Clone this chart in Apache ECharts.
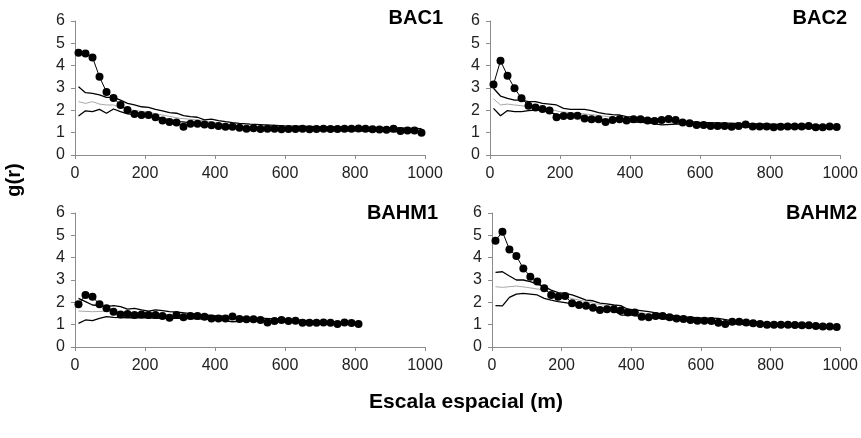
<!DOCTYPE html>
<html>
<head>
<meta charset="utf-8">
<script src="https://cdn.jsdelivr.net/npm/echarts@6/dist/echarts.min.js"></script>
<style>
  html, body { margin: 0; padding: 0; background: #fff; }
  #chart { width: 861px; height: 438px; }
</style>
</head>
<body>
<div id="chart"></div>
<script>
  // distancias (m) de cada punto observado
  var dist = [];
  for (var d = 10; d <= 990; d += 20) dist.push(d);

  var xTicks = [0, 200, 400, 600, 800, 1000];
  var yTicks = [0, 1, 2, 3, 4, 5, 6];

  var names = ['BAC1', 'BAC2', 'BAHM1', 'BAHM2'];

  // g(r) observado
  var obsBAC1 = [4.58,4.55,4.37,3.5,2.82,2.55,2.24,2.01,1.84,1.79,1.79,1.69,1.55,1.48,1.45,1.27,1.4,1.4,1.37,1.33,1.3,1.27,1.27,
    1.22,1.17,1.2,1.16,1.17,1.17,1.15,1.16,1.16,1.17,1.15,1.16,1.18,1.16,1.16,1.18,1.17,1.19,1.17,1.15,1.14,1.13,1.18,1.07,1.1,1.1,1.0];
  var obsBAC2 = [3.16,4.22,3.55,2.99,2.54,2.21,2.13,2.06,1.99,1.69,1.75,1.75,1.76,1.63,1.6,1.6,1.48,1.57,1.6,1.54,1.6,1.6,1.54,
    1.52,1.57,1.61,1.57,1.45,1.42,1.34,1.34,1.3,1.3,1.3,1.27,1.3,1.37,1.28,1.28,1.28,1.24,1.26,1.28,1.28,1.28,1.3,1.24,1.24,1.28,1.25];
  var obsBAHM1 = [1.91,2.33,2.25,1.91,1.73,1.58,1.46,1.48,1.43,1.46,1.43,1.43,1.39,1.31,1.43,1.33,1.39,1.39,1.36,1.28,1.28,1.28,1.37,
    1.25,1.24,1.24,1.21,1.1,1.16,1.21,1.16,1.18,1.09,1.09,1.09,1.1,1.09,1.03,1.1,1.07,1.03];
  var obsBAHM2 = [4.76,5.16,4.37,4.07,3.52,3.15,2.93,2.63,2.33,2.25,2.28,1.96,1.88,1.85,1.76,1.66,1.69,1.69,1.63,1.54,1.54,1.36,1.33,
    1.39,1.39,1.33,1.28,1.25,1.21,1.18,1.18,1.16,1.09,1.03,1.13,1.13,1.1,1.06,1.03,1.0,1.0,1.0,1.0,0.98,0.97,0.97,0.94,0.92,0.92,0.9];

  // envolventes superior / inferior y media (pares [m, g(r)])
  var supBAC1 = [[10,3.06],[30,2.79],[50,2.76],[70,2.69],[90,2.58],[110,2.58],[130,2.46],[150,2.31],[170,2.24],[190,2.16],[210,2.13],[230,2.04],[250,1.98],[270,1.9],[290,1.87],[310,1.76],[330,1.72],[350,1.69],[370,1.57],[390,1.61],[410,1.54],[430,1.49],[450,1.45],[470,1.42],[500,1.38],[600,1.3],[700,1.27],[800,1.25],[900,1.22],[990,1.18]];
  var medBAC1 = [[10,2.39],[30,2.31],[50,2.39],[70,2.28],[90,2.24],[110,2.24],[130,2.13],[150,2.04],[200,1.94],[250,1.79],[300,1.64],[350,1.57],[400,1.45],[450,1.34],[500,1.27],[600,1.2],[800,1.16],[990,1.1]];
  var infBAC1 = [[10,1.75],[30,1.98],[50,1.94],[70,2.04],[90,1.87],[110,2.06],[130,1.94],[150,1.84],[170,1.81],[200,1.76],[250,1.64],[300,1.49],[350,1.42],[400,1.3],[450,1.24],[500,1.16],[600,1.1],[800,1.08],[990,1.02]];

  var supBAC2 = [[10,2.99],[30,2.64],[50,2.54],[70,2.46],[90,2.46],[110,2.39],[130,2.39],[150,2.31],[170,2.28],[190,2.24],[210,2.09],[230,2.04],[250,2.04],[270,2.04],[290,1.99],[310,1.9],[330,1.84],[350,1.81],[370,1.79],[390,1.72],[450,1.64],[500,1.56],[600,1.46],[700,1.42],[800,1.38],[990,1.3]];
  var medBAC2 = [[10,2.52],[30,2.24],[50,2.28],[70,2.24],[100,2.19],[150,2.13],[200,1.94],[250,1.87],[300,1.79],[350,1.69],[400,1.6],[500,1.48],[600,1.38],[800,1.3],[990,1.25]];
  var infBAC2 = [[10,2.09],[30,1.76],[50,1.99],[70,1.94],[90,1.94],[110,1.99],[130,2.01],[150,1.99],[170,1.9],[200,1.8],[250,1.7],[300,1.62],[350,1.55],[400,1.48],[450,1.45],[490,1.35],[550,1.4],[600,1.32],[800,1.22],[990,1.2]];

  var supBAHM1 = [[10,2.18],[30,2.03],[50,1.88],[70,1.85],[90,1.81],[110,1.85],[130,1.81],[150,1.7],[170,1.73],[190,1.66],[210,1.61],[230,1.66],[250,1.63],[270,1.58],[300,1.55],[350,1.46],[400,1.4],[450,1.36],[500,1.3],[600,1.25],[700,1.15],[810,1.08]];
  var medBAHM1 = [[10,1.61],[50,1.58],[100,1.61],[150,1.55],[200,1.51],[300,1.4],[400,1.33],[500,1.25],[600,1.18],[700,1.1],[810,1.03]];
  var infBAHM1 = [[10,1.06],[30,1.21],[50,1.18],[70,1.28],[90,1.36],[110,1.33],[150,1.31],[200,1.31],[250,1.28],[300,1.28],[400,1.24],[450,1.13],[500,1.18],[600,1.12],[700,1.05],[810,1.0]];

  var supBAHM2 = [[10,3.34],[30,3.37],[50,3.18],[70,3.0],[90,3.0],[110,2.93],[130,2.82],[150,2.7],[170,2.55],[190,2.43],[210,2.4],[230,2.33],[250,2.22],[270,2.1],[290,2.07],[310,1.96],[330,1.93],[350,1.88],[370,1.85],[390,1.69],[410,1.66],[450,1.58],[500,1.45],[550,1.35],[600,1.3],[650,1.28],[700,1.15],[800,1.08],[900,1.02],[990,0.95]];
  var medBAHM2 = [[10,2.7],[30,2.67],[70,2.73],[100,2.67],[150,2.55],[200,2.28],[250,2.1],[300,1.93],[350,1.81],[400,1.58],[500,1.38],[600,1.2],[700,1.1],[800,1.0],[990,0.9]];
  var infBAHM2 = [[10,1.85],[30,1.84],[50,2.22],[70,2.37],[90,2.4],[110,2.37],[130,2.33],[150,2.18],[170,2.1],[190,2.03],[210,1.99],[230,1.93],[250,1.85],[300,1.73],[350,1.63],[370,1.43],[400,1.43],[450,1.33],[500,1.25],[600,1.12],[700,1.02],[800,0.95],[990,0.85]];

  var obs = [obsBAC1, obsBAC2, obsBAHM1, obsBAHM2];
  var sup = [supBAC1, supBAC2, supBAHM1, supBAHM2];
  var med = [medBAC1, medBAC2, medBAHM1, medBAHM2];
  var inf = [infBAC1, infBAC2, infBAHM1, infBAHM2];

  var boxes = [
    {left: 75, top: 21, width: 350, height: 134},
    {left: 490, top: 21, width: 352, height: 134},
    {left: 75, top: 213, width: 350, height: 134},
    {left: 492, top: 213, width: 351, height: 134}
  ];
  // borde derecho y borde superior de cada rótulo
  var titlePos = [[418, 8], [14, 8], [423, 203], [4, 203]];

  var font = 'Liberation Sans, Arial, sans-serif';
  var axisColor = '#8c8c8c';

  var grids = [], xAxes = [], yAxes = [], series = [], titles = [];
  for (var i = 0; i < 4; i++) {
    grids.push(boxes[i]);
    xAxes.push({
      type: 'value', gridIndex: i, min: xTicks[0], max: xTicks[xTicks.length - 1], interval: 200,
      axisLine: {lineStyle: {color: axisColor}},
      axisTick: {show: true, length: 4, lineStyle: {color: axisColor}},
      axisLabel: {color: '#222', fontSize: 16, fontFamily: font, margin: 11,
        formatter: function (v) { return String(v); }},
      splitLine: {show: false}
    });
    yAxes.push({
      type: 'value', gridIndex: i, min: yTicks[0], max: yTicks[yTicks.length - 1], interval: 1,
      axisLine: {show: true, lineStyle: {color: axisColor}},
      axisTick: {show: true, length: 4, lineStyle: {color: axisColor}},
      axisLabel: {color: '#222', fontSize: 16, fontFamily: font, margin: 10},
      splitLine: {show: false}
    });
    titles.push({
      text: names[i], right: titlePos[i][0], top: titlePos[i][1], padding: 0,
      textStyle: {fontSize: 20, fontWeight: 'bold', color: '#000', fontFamily: font}
    });
    var common = {type: 'line', xAxisIndex: i, yAxisIndex: i, showSymbol: false, silent: true, animation: false};
    series.push(Object.assign({}, common, {data: sup[i], lineStyle: {color: '#000', width: 1.3}}));
    series.push(Object.assign({}, common, {data: med[i], lineStyle: {color: '#a8a8a8', width: 1}}));
    series.push(Object.assign({}, common, {data: inf[i], lineStyle: {color: '#000', width: 1.3}}));
    series.push({
      type: 'line', xAxisIndex: i, yAxisIndex: i, animation: false, silent: true,
      data: obs[i].map(function (v, k) { return [dist[k], v]; }),
      symbol: 'circle', symbolSize: 8, showSymbol: true,
      itemStyle: {color: '#000'},
      lineStyle: {color: '#000', width: 1},
      z: 5
    });
  }

  var chart = echarts.init(document.getElementById('chart'));
  chart.setOption({
    backgroundColor: '#fff',
    title: titles,
    grid: grids,
    xAxis: xAxes,
    yAxis: yAxes,
    series: series,
    graphic: [
      {type: 'text', x: 14, y: 180, rotation: Math.PI / 2,
        style: {text: 'g(r)', fill: '#000', font: 'bold 20px Liberation Sans, Arial, sans-serif', align: 'center', verticalAlign: 'middle'}},
      {type: 'text', x: 466, y: 402,
        style: {text: 'Escala espacial (m)', fill: '#000', font: 'bold 21px Liberation Sans, Arial, sans-serif', align: 'center', verticalAlign: 'middle'}}
    ]
  });
</script>
</body>
</html>
